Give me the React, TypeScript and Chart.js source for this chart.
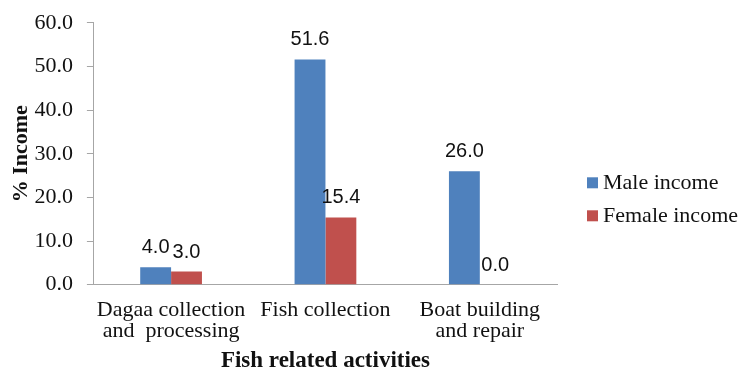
import React, { useEffect, useRef } from "react";
import { Chart, registerables } from "chart.js";

Chart.register(...registerables);

// Share of income by fish related activity, per gender (%)
const categories: (string | string[])[] = [
  ["Dagaa collection", "and  processing"],
  "Fish collection",
  ["Boat building", "and repair"],
];
const maleIncome = [4.0, 51.6, 26.0];
const femaleIncome = [3.0, 15.4, 0.0];
const seriesNames = ["Male income", "Female income"];
const seriesColors = ["#4F81BD", "#C0504D"];
const yTicks = { min: 0, max: 60, step: 10 };

const SERIF = "'Liberation Serif', 'Times New Roman', serif";
const SANS = "'Liberation Sans', Arial, sans-serif";
const AXIS_GRAY = "#A6A6A6";

// Writes each bar's value above it
const valueLabels = {
  id: "valueLabels",
  afterDatasetsDraw(chart: Chart) {
    const ctx = chart.ctx;
    ctx.save();
    ctx.font = `20px ${SANS}`;
    ctx.fillStyle = "#111";
    ctx.textAlign = "center";
    ctx.textBaseline = "alphabetic";
    chart.data.datasets.forEach((ds, i) => {
      const meta = chart.getDatasetMeta(i);
      meta.data.forEach((el: any, j: number) => {
        const v = ds.data[j] as number;
        ctx.fillText(v.toFixed(1), el.x, el.y - 14);
      });
    });
    ctx.restore();
  },
};

// Vertical legend to the right of the plot
const sideLegend = {
  id: "sideLegend",
  afterDraw(chart: Chart) {
    const ctx = chart.ctx;
    const area = chart.chartArea;
    const x = area.right + 30;
    const firstRow = area.top + 160;
    const rowGap = 33;
    const box = 11;
    ctx.save();
    ctx.font = `22px ${SERIF}`;
    ctx.textAlign = "left";
    ctx.textBaseline = "middle";
    chart.data.datasets.forEach((ds, i) => {
      const y = firstRow + i * rowGap;
      ctx.fillStyle = ds.backgroundColor as string;
      ctx.fillRect(x, y - box / 2, box, box);
      ctx.fillStyle = "#111";
      ctx.fillText(ds.label as string, x + box + 5, y);
    });
    ctx.restore();
  },
};

export default function App() {
  const canvasRef = useRef<HTMLCanvasElement | null>(null);

  useEffect(() => {
    if (!canvasRef.current) return;
    const chart = new Chart(canvasRef.current, {
      type: "bar",
      data: {
        labels: categories,
        datasets: [
          {
            label: seriesNames[0],
            data: maleIncome,
            backgroundColor: seriesColors[0],
            categoryPercentage: 0.4,
            barPercentage: 1.0,
          },
          {
            label: seriesNames[1],
            data: femaleIncome,
            backgroundColor: seriesColors[1],
            categoryPercentage: 0.4,
            barPercentage: 1.0,
          },
        ],
      },
      options: {
        animation: false,
        responsive: true,
        maintainAspectRatio: false,
        layout: { padding: { top: 19, left: 0, right: 184, bottom: 0 } },
        plugins: {
          legend: { display: false },
          tooltip: { enabled: false },
        },
        scales: {
          x: {
            grid: { drawOnChartArea: false, drawTicks: false, color: AXIS_GRAY },
            border: { color: AXIS_GRAY, width: 1 },
            ticks: {
              color: "#111",
              padding: 15,
              maxRotation: 0,
              autoSkip: false,
              font: { family: SERIF, size: 22, lineHeight: 0.96 },
            },
            title: {
              display: true,
              text: "Fish related activities",
              color: "#111",
              padding: { top: -7, bottom: 0 },
              font: { family: SERIF, size: 23, weight: "bold", lineHeight: 0.96 },
            },
          },
          y: {
            min: yTicks.min,
            max: yTicks.max,
            grid: { drawOnChartArea: false, drawTicks: true, tickLength: 7, color: AXIS_GRAY },
            border: { color: AXIS_GRAY, width: 1 },
            ticks: {
              stepSize: yTicks.step,
              color: "#111",
              padding: 14,
              font: { family: SERIF, size: 22, lineHeight: 0.8 },
              callback: (v: any) => Number(v).toFixed(1),
            },
            title: {
              display: true,
              text: "% Income",
              color: "#111",
              padding: { top: 8, bottom: -14 },
              font: { family: SERIF, size: 22, weight: "bold" },
            },
          },
        },
      },
      plugins: [valueLabels, sideLegend],
    });
    return () => chart.destroy();
  }, []);

  return (
    <div style={{ position: "absolute", left: 0, top: 0, width: 741, height: 372, background: "#fff" }}>
      <canvas ref={canvasRef} />
    </div>
  );
}
